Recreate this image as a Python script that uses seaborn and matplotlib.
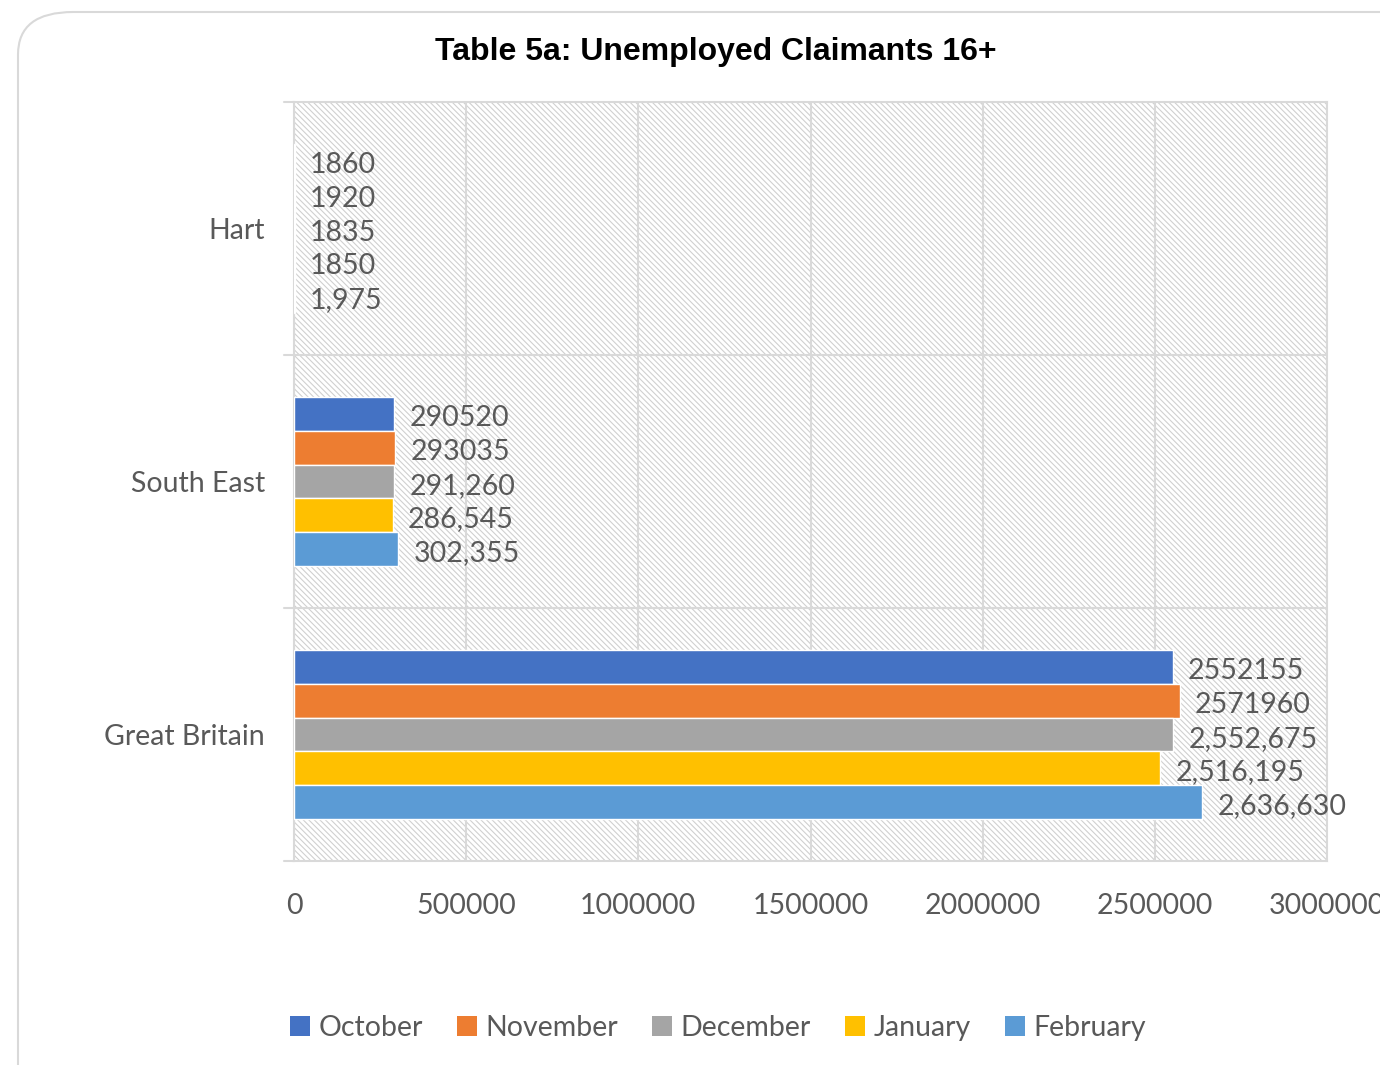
import numpy as np
import pandas as pd
import matplotlib
matplotlib.use("Agg")
import matplotlib.pyplot as plt
import seaborn as sns
from matplotlib.patches import FancyBboxPatch, Rectangle, Patch

# data
areas = ["Hart", "South East", "Great Britain"]
months = ["October", "November", "December", "January", "February"]
hart = [1860, 1920, 1835, 1850, 1975]
south_east = [290520, 293035, 291260, 286545, 302355]
great_britain = [2552155, 2571960, 2552675, 2516195, 2636630]
hart_labels = ["1860", "1920", "1835", "1850", "1,975"]
south_east_labels = ["290520", "293035", "291,260", "286,545", "302,355"]
great_britain_labels = ["2552155", "2571960", "2,552,675", "2,516,195", "2,636,630"]
x_ticks = [0, 500000, 1000000, 1500000, 2000000, 2500000, 3000000]
colors = ["#4472C4", "#ED7D31", "#A5A5A5", "#FFC000", "#5B9BD5"]

TEXT = "#595959"
GRID = "#D9D9D9"
FS = 20.5

sns.set_theme(style="white")
plt.rcParams["font.family"] = ["Lato", "DejaVu Sans"]
plt.rcParams["hatch.linewidth"] = 0.8

rows = []
for area, vals in zip(areas, [hart, south_east, great_britain]):
    for month, v in zip(months, vals):
        rows.append({"area": area, "month": month, "claimants": v})
df = pd.DataFrame(rows)

fig = plt.figure(figsize=(13.8, 10.65), dpi=100)

# rounded chart frame (only top-left corner visible)
frame = FancyBboxPatch((18 / 1380, -0.2), 1.2, 1 - 12 / 1065 + 0.2,
                       boxstyle="round,pad=0,rounding_size=0.04",
                       transform=fig.transFigure, facecolor="white",
                       edgecolor="#D9D9D9", linewidth=1.5, zorder=-5)
fig.patches.append(frame)

ax = fig.add_axes([294 / 1380, 1 - 861 / 1065, (1327 - 294) / 1380, (861 - 102) / 1065])
ax.set_facecolor("none")

# hatched plot area background
ax.add_patch(Rectangle((0, 0), 1, 1, transform=ax.transAxes, facecolor="white",
                       edgecolor="#D0D0D0", hatch="\\\\\\\\\\\\", linewidth=0, zorder=0))

sns.barplot(data=df, y="area", x="claimants", hue="month", order=areas,
            hue_order=months, palette=colors, orient="h", width=0.665,
            saturation=1, ax=ax, zorder=3, legend=False)

labels_by_month = list(zip(hart_labels, south_east_labels, great_britain_labels))
for container, labels in zip(ax.containers, labels_by_month):
    anns = ax.bar_label(container, labels=list(labels), padding=11, fontsize=FS, color=TEXT)
    for a in anns:
        # nudge labels down a little, like the reference
        a.xyann = (a.xyann[0], a.xyann[1] - 3)

ax.set_xlim(0, 3000000)
ax.set_ylim(2.5, -0.5)
ax.set_xticks(x_ticks)
ax.set_xticklabels([str(t) for t in x_ticks])
ax.set_yticks([0, 1, 2])
ax.set_yticklabels(areas)
ax.tick_params(axis="x", labelsize=FS, labelcolor=TEXT, pad=23, length=0)
ax.tick_params(axis="y", labelsize=FS, labelcolor=TEXT, pad=21, length=0)
ax.set_xlabel("")
ax.set_ylabel("")

for t in x_ticks:
    ax.axvline(t, color=GRID, linewidth=1.5, zorder=1)
for b in [0.5, 1.5]:
    ax.axhline(b, color=GRID, linewidth=1.5, zorder=1)
for side in ["top", "bottom", "left", "right"]:
    ax.spines[side].set_visible(True)
    ax.spines[side].set_color(GRID)
    ax.spines[side].set_linewidth(1.5)
# category tick marks on the left edge
for b in [-0.5, 0.5, 1.5, 2.5]:
    ax.plot([-0.01, 0], [b, b], transform=ax.get_yaxis_transform(),
            color=GRID, linewidth=1.5, clip_on=False)

fig.text(716 / 1380, 1 - 52 / 1065, "Table 5a: Unemployed Claimants 16+",
         ha="center", va="center", fontsize=23, fontweight="bold",
         family=["Liberation Sans", "DejaVu Sans"], color="black")

handles = [Patch(facecolor=c, edgecolor="none", label=m) for c, m in zip(colors, months)]
fig.legend(handles=handles, loc="center", bbox_to_anchor=(718 / 1380, 1 - 1028 / 1065),
           ncol=5, frameon=False, fontsize=FS, labelcolor=TEXT,
           handlelength=0.7, handleheight=0.7, handletextpad=0.3, columnspacing=1.2)

fig.savefig("out.png", dpi=100)
